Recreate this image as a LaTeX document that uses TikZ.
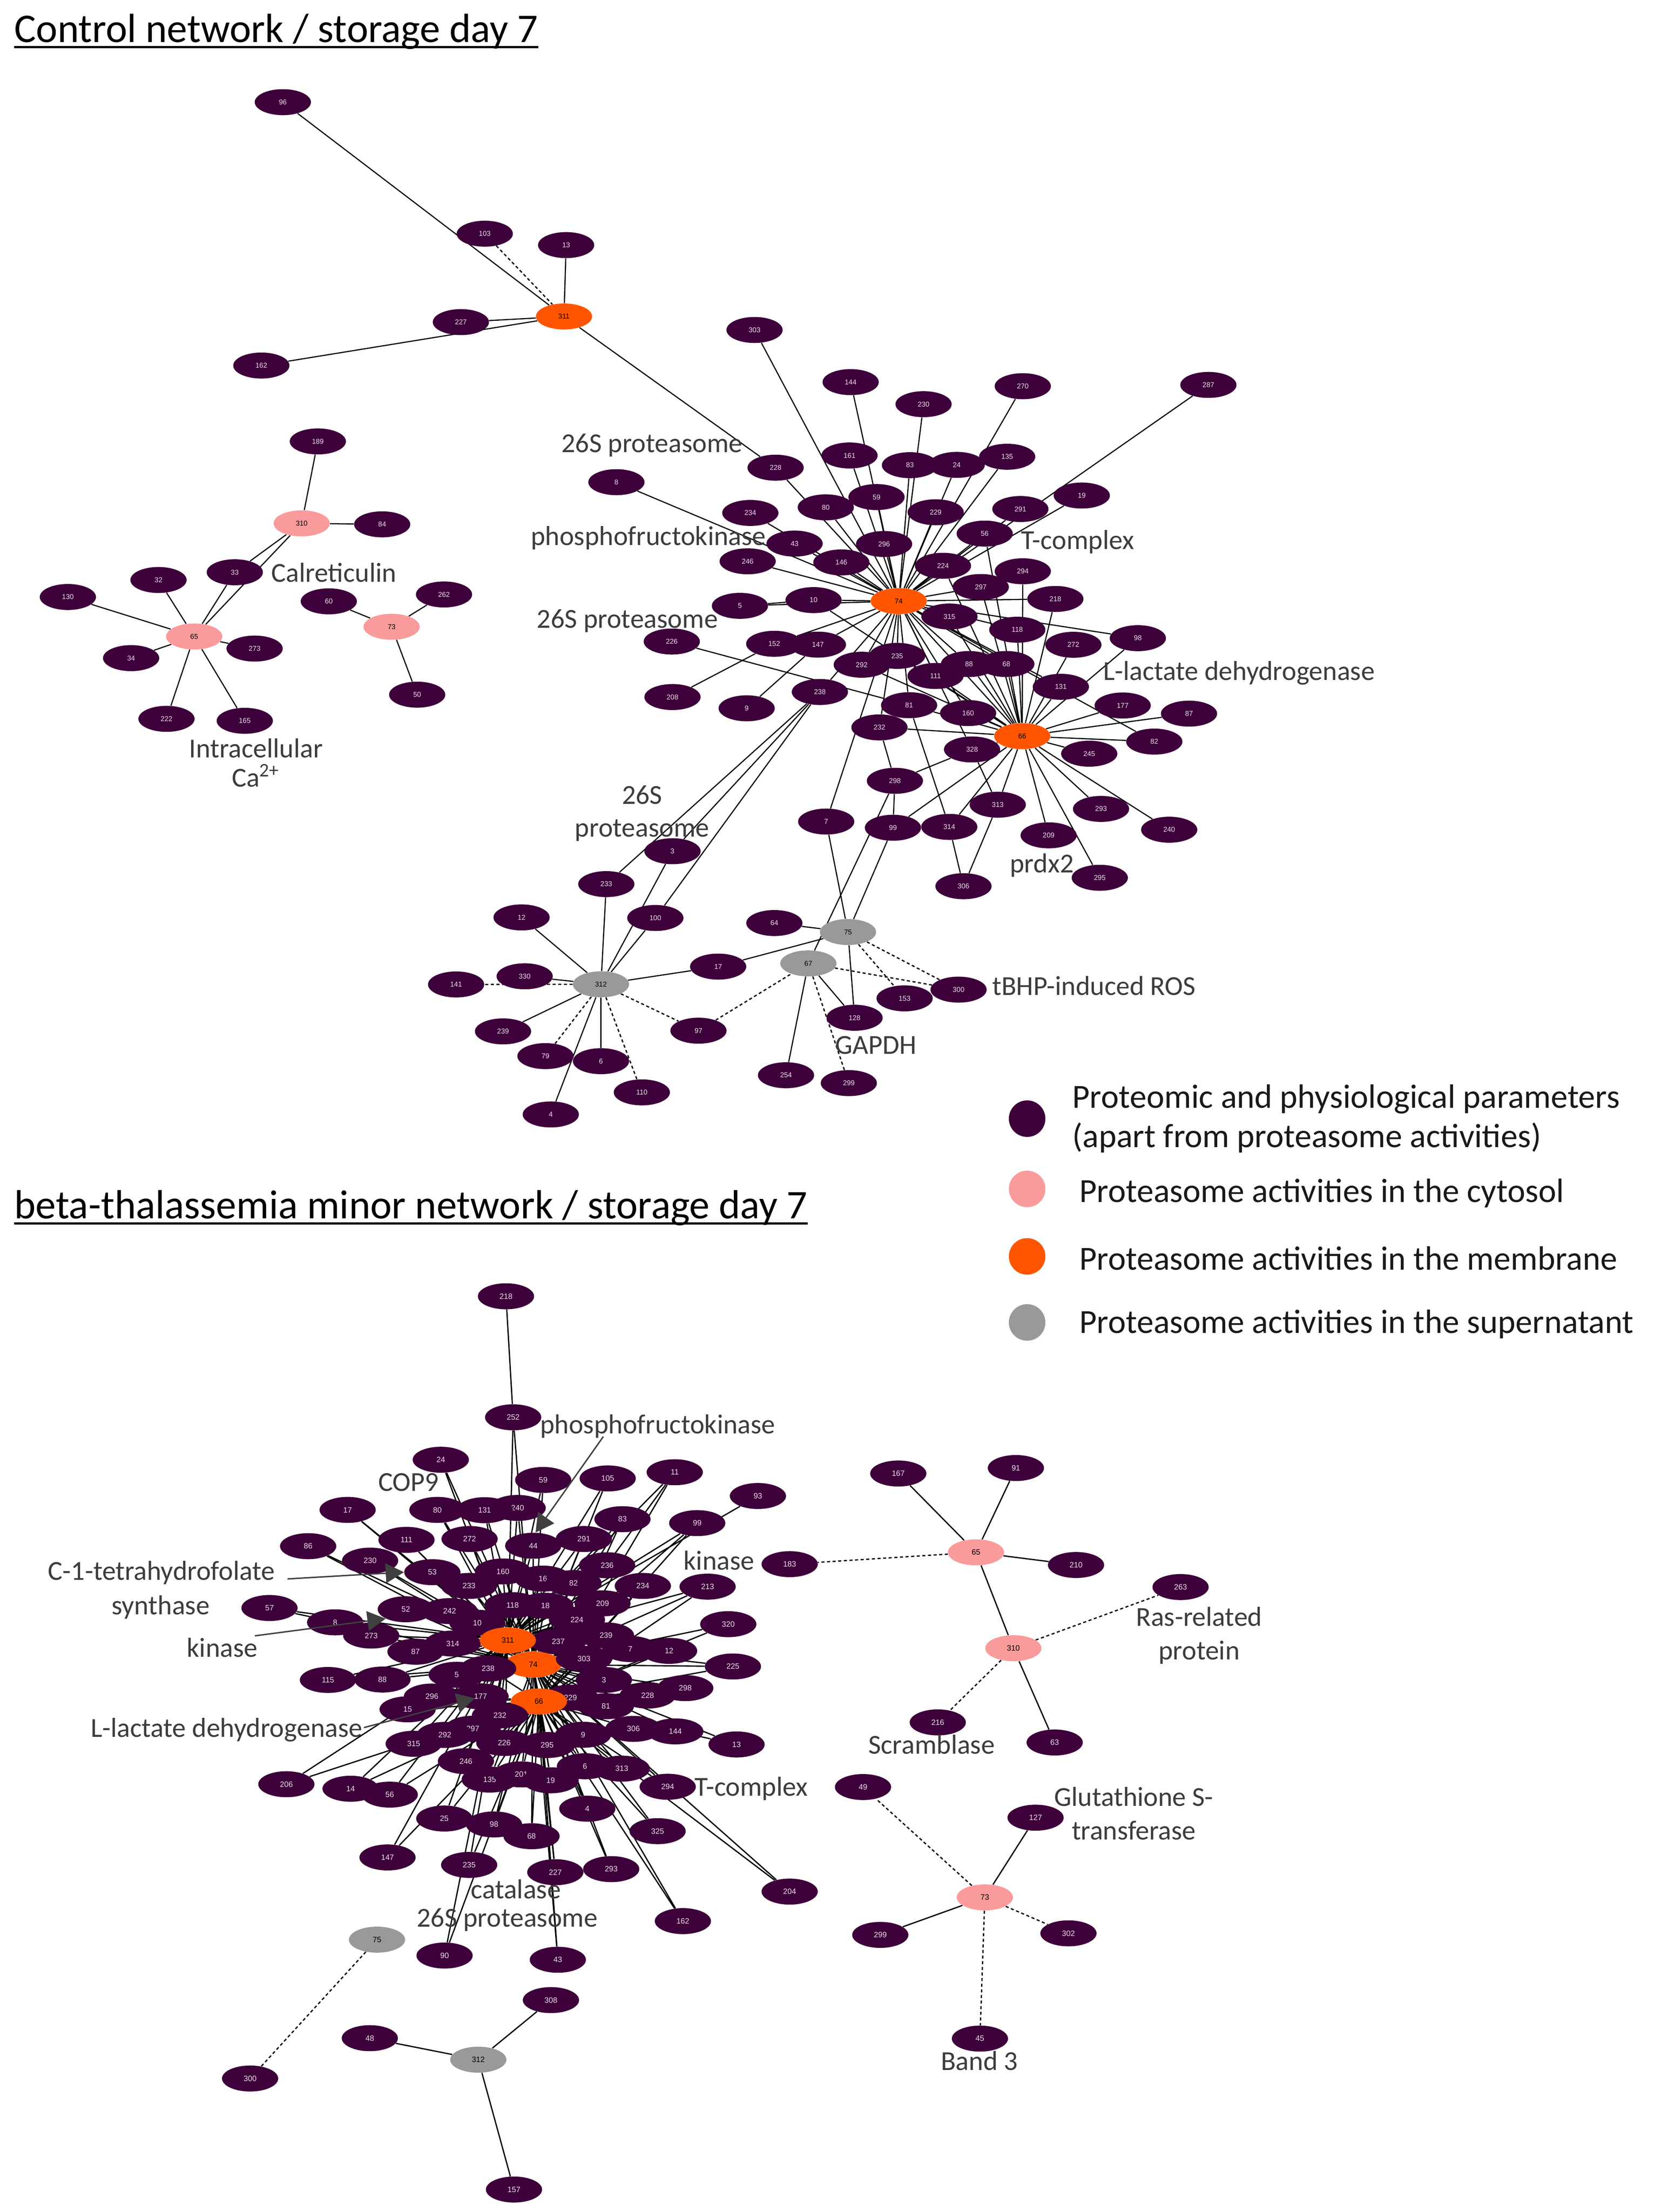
\documentclass[tikz,border=0pt]{standalone}
\usepackage{fontspec}
\setmainfont{Carlito}
\newfontfamily\numfont{Liberation Sans}
\usetikzlibrary{shapes.geometric,arrows.meta}
\pgfdeclarelayer{bg}
\pgfsetlayers{bg,main}
\definecolor{pur}{RGB}{62,0,58}
\definecolor{pnk}{RGB}{250,155,155}
\definecolor{org}{RGB}{255,85,0}
\definecolor{gry}{RGB}{153,153,153}
\definecolor{ntxt}{RGB}{238,218,236}
\definecolor{lbl}{RGB}{60,60,60}
\definecolor{arr}{RGB}{64,64,64}
\begin{document}
\begin{tikzpicture}[x=1pt,y=-1pt,
  nd/.style={ellipse, minimum width=40pt, minimum height=18.5pt, inner sep=0pt, font=\numfont\fontsize{5}{5}\selectfont},
  pnode/.style={nd, fill=pur, text=ntxt},
  knode/.style={nd, fill=pnk, text=black},
  onode/.style={nd, fill=org, text=black},
  gnode/.style={nd, fill=gry, text=black},
  bsz/.style={font=\numfont\fontsize{5.5}{5.5}\selectfont},
  edg/.style={line width=0.8pt, black},
  bedg/.style={line width=0.9pt, black},
  dsh/.style={line width=0.9pt, black, dash pattern=on 2.2pt off 1.8pt},
  lab/.style={font=\fontsize{19.5}{22}\selectfont, text=lbl, inner sep=0pt, anchor=base},
  ttl/.style={font=\fontsize{29}{32}\selectfont, text=black, inner sep=0pt, anchor=base west},
  leg/.style={font=\fontsize{24}{28}\selectfont, text=black!90, inner sep=0pt, anchor=base west},
  legc/.style={circle, minimum size=26pt, inner sep=0pt},
  arw/.style={draw=arr, line width=1pt, -{Triangle[length=13pt,width=14pt]}}
]
\useasboundingbox (0,0) rectangle (1187,1574);

% ---------- titles ----------
\node[ttl] (t1) at (10,30) {Control network / storage day 7};
\draw[line width=1.4pt] ([yshift=-3.5pt]t1.base west) -- ([yshift=-3.5pt]t1.base east);
\node[ttl] (t2) at (10,867) {beta-thalassemia minor network / storage day 7};
\draw[line width=1.4pt] ([yshift=-3.5pt]t2.base west) -- ([yshift=-3.5pt]t2.base east);

% ---------- control network nodes ----------
\foreach \n/\x/\y in {96/201.3/72.7, 103/345/166.3, 13/402.9/174.4, 227/328/229.2, 162/186/260.1,
 189/226.2/314.1, 84/272/373.1, 33/167.1/407.2, 32/112.8/412.7, 130/48.3/424.8, 34/93.3/468.3,
 273/181.2/461.5, 222/118.5/511.5, 165/174.2/512.9, 60/234/427.9, 262/316/423, 50/296.9/494.3,
 303/537/234.8, 144/605.4/271.9, 230/657.3/287.6, 270/727.9/274.8, 287/860/273.9, 228/552/332.8,
 161/604.6/324.1, 83/647.6/331, 24/680.9/330.8, 135/716.8/325, 8/438.7/343.1, 234/534/365,
 80/587.7/361, 59/623.8/353.7, 229/665.9/364.5, 291/726.2/362.2, 19/769.9/352.6, 43/565.5/386.8,
 296/629.2/387.1, 56/700.8/379.7, 246/532.1/399.4, 146/598.8/400.2, 224/671.1/402.6, 294/727.9/406.5,
 297/698/417.7, 218/751.1/426.2, 10/579/427, 5/526.6/431.1, 315/675.7/438.7, 118/724/448.1,
 98/809.8/454.1, 272/763.9/458.8, 226/478.1/456.5, 152/551/458.1, 147/582.1/458.7, 292/613.3/473,
 235/638.5/466.7, 88/689.6/472.5, 68/716.2/472.5, 111/665.8/481, 131/755/488.7, 208/478.6/496,
 9/531.4/504, 238/583.5/492.4, 81/647/501.8, 160/689/507.4, 177/799/502, 87/846.2/507.8,
 232/625.9/517.6, 82/821.5/527.7, 328/691.8/533.3, 245/775.2/536.3, 298/636.9/555.6, 313/710.1/572.6,
 293/783.6/575.6, 7/588/584.6, 99/635.5/589, 314/675.6/588.4, 240/832.1/590.4, 209/746.3/594.4,
 3/478.6/605.7, 295/782.7/624.6, 306/685.7/630.6,
 233/431.5/629.1, 12/371.2/652.8, 100/466.4/653.2, 64/551.1/656.8, 17/511.1/687.8, 330/373.4/694.7,
 141/324.6/700.5, 153/643.8/710.4, 300/682.2/704.2, 128/608.2/724.2, 239/358/733.9, 97/497.1/733.4,
 79/388.2/751.5, 6/427.7/755.1, 110/456.8/777.3, 254/559.4/765.1, 299/604.1/770.7, 4/392/793}
  \node[pnode] (a\n) at (\x,\y) {\n};
\node[onode] (a311) at (401.4,225.2) {311};
\node[knode] (a310) at (214.7,372.4) {310};
\node[knode] (a65) at (138.2,452.9) {65};
\node[knode] (a73) at (278.7,446) {73};
\node[onode] (a74) at (639.6,427.7) {74};
\node[onode] (a66) at (727.5,523.8) {66};
\node[gnode] (a75) at (603.5,663.2) {75};
\node[gnode] (a67) at (575.3,685.5) {67};
\node[gnode] (a312) at (427.7,700.4) {312};

% ---------- control edges ----------
\begin{pgfonlayer}{bg}
\foreach \t in {303,144,161,230,83,24,229,135,270,287,291,19,56,224,297,315,218,118,98,82,228,80,59,296,146,43,234,8,246,10,5,152,147,292,235,238,111,88,68,81,160,232,328,7,66,131}
  \draw[edg] (a74) -- (a\t);
\foreach \t in {87,177,82,245,293,240,209,295,313,314,99,328,160,232,131,98,272,118,68,88,111,315,218,294,56,224,297,10,292,235,81}
  \draw[edg] (a66) -- (a\t);
\foreach \s/\t in {96/311,13/311,227/311,162/311,311/228,189/310,310/84,310/33,310/65,33/65,65/130,65/32,65/34,65/273,65/222,65/165,73/60,73/262,73/50,5/10,208/152,9/147,226/81,232/298,298/328,298/99,298/67,313/306,314/306,81/314,328/313,7/75,99/75,238/233,238/3,238/100,3/312,312/12,312/330,312/233,312/100,312/17,312/239,312/6,312/4,75/64,75/17,75/128,67/128,67/254}
  \draw[edg] (a\s) -- (a\t);
\foreach \s/\t in {103/311,312/141,312/79,312/110,312/97,97/67,75/153,75/300,67/300,67/299}
  \draw[dsh] (a\s) -- (a\t);
\end{pgfonlayer}

% ---------- control labels ----------
\node[lab] (c1) at (464,322) {26S proteasome};
\node[lab] (c2) at (461.5,388) {phosphofructokinase};
\node[lab] (c3) at (446.5,447) {26S proteasome};
\node[lab] (c4) at (766.9,390.7) {T-complex};
\node[lab, anchor=base west] (c5) at (785,484) {L-lactate dehydrogenase};
\node[lab] (c6) at (741.5,621) {prdx2};
\node[lab] (c7) at (457,572) {26S};
\node[lab] (c8) at (457,595.5) {proteasome};
\node[lab, anchor=base west] (c9) at (706,708) {tBHP-induced ROS};
\node[lab] (c10) at (623.3,750) {GAPDH};
\node[lab] (c11) at (237.6,414) {Calreticulin};
\node[lab] (c12) at (182.2,539) {Intracellular};
\node[lab] (c13) at (182,560) {Ca\textsuperscript{2+}};

% ---------- legend ----------
\node[legc, fill=pur] (lg1) at (731,796) {};
\node[legc, fill=pnk] (lg2) at (731,846) {};
\node[legc, fill=org] (lg3) at (731,894) {};
\node[legc, fill=gry] (lg4) at (731,941) {};
\node[leg] (lt1) at (763,788.5) {Proteomic and physiological parameters};
\node[leg] (lt1b) at (763,816.5) {(apart from proteasome activities)};
\node[leg] (lt2) at (768,855.5) {Proteasome activities in the cytosol};
\node[leg] (lt3) at (768,903.5) {Proteasome activities in the membrane};
\node[leg] (lt4) at (768,948.5) {Proteasome activities in the supernatant};

% ---------- beta network nodes ----------
\foreach \n/\x/\y in {218/360.1/922.4, 252/365.2/1008.5, 24/313.7/1038.7, 59/386.6/1053.1, 105/432.5/1052,
 11/480.2/1047.6, 93/539.4/1064.5, 17/247.4/1074.4, 240/368.4/1073, 80/311.3/1074.4, 131/344.9/1074.6,
 83/443/1081, 99/496.2/1083.8, 86/219.3/1100.2, 111/289.3/1095.7, 272/334.2/1095.1, 291/415.5/1095.1,
 44/379.5/1099.9, 230/263.4/1110.5, 236/432.1/1113.8, 234/457.5/1128.5, 213/503.6/1129, 320/518.3/1155.7,
 225/521.6/1185.8, 298/487.7/1201.2, 228/460.9/1206.5, 12/476.2/1174.7, 7/448.6/1173.4, 144/480.6/1232,
 13/524.2/1241.3, 306/450.8/1230.2, 57/191.8/1144.2, 8/238.5/1154.4, 273/264.2/1163.8, 115/233.4/1195.4,
 88/272.2/1195.1, 206/203.8/1269.6, 14/249.5/1272.8, 56/277.4/1277, 25/316.2/1294, 98/351.6/1298.2,
 68/378.3/1306.6, 147/275.8/1321.7, 235/333.9/1327, 227/395.2/1332.2, 293/435/1330, 325/468/1303,
 162/486/1367, 204/562/1346, 4/418/1287, 294/475.2/1271.4, 313/442.5/1258.5, 6/416.3/1256.8,
 135/348.5/1266.3, 201/371/1262.6, 19/391.9/1266.8, 246/331.6/1253.2, 295/389.4/1241.7, 9/415/1234.4,
 226/358.9/1240.2, 315/294.4/1240.8, 297/336.5/1230.1, 292/316.6/1234.5, 15/290.1/1216.3,
 296/307.4/1207.2, 87/295.7/1175.3, 52/288.8/1145.1, 53/307.7/1118.7, 233/333.8/1128.5,
 160/357.9/1118.2, 16/386.4/1123.3, 82/408.2/1126.5, 209/428.8/1140.9, 18/388.1/1142.6,
 118/364.8/1142.2, 242/320/1146.4, 10/339.7/1154.7, 224/410.6/1152.5, 239/431.3/1163.7,
 237/397.3/1168, 314/322.2/1169.5}
  \node[pnode,bsz] (b\n) at (\x,\y) {\n};
\node[onode,bsz] (b311) at (361.4,1167.2) {311};
\node[onode,bsz] (b74) at (379.5,1184.4) {74};
\foreach \n/\x/\y in {5/325/1191.7, 238/347.4/1187.3, 303/415.6/1180.4, 3/429.8/1195.4, 81/431.2/1214.1, 229/406/1208}
  \node[pnode,bsz] (b\n) at (\x,\y) {\n};
\node[onode,bsz] (b66) at (383.5,1210.7) {66};
\foreach \n/\x/\y in {177/342/1207.1, 232/355.8/1220.6,
 167/639.3/1048.5, 91/723/1044.6, 183/562/1113, 210/765.8/1113.6, 263/840.2/1129.3, 216/667.4/1225.6,
 63/750.6/1239.9, 49/614.2/1271.6, 127/737/1293.4, 299/626.5/1376.8, 302/760.4/1375.7, 45/697.4/1450.6,
 90/316.4/1391.5, 43/397/1394.5, 308/392.1/1423.2, 48/263.2/1450.3, 300/178/1479, 157/365.8/1558}
  \node[pnode,bsz] (b\n) at (\x,\y) {\n};
\node[knode,bsz] (b65) at (694.6,1104.6) {65};
\node[knode,bsz] (b310) at (721.2,1172.8) {310};
\node[knode,bsz] (b73) at (700.9,1350.1) {73};
\node[gnode,bsz] (b75) at (268.3,1380.2) {75};
\node[gnode,bsz] (b312) at (340.4,1465.6) {312};

% ---------- beta edges ----------
\begin{pgfonlayer}{bg}
\draw[bedg] (b218) -- (b252);
\foreach \t in {252,24,17,59,105,80,131,240,111,272,44,230,53,160,233,52,242,118,10,314,86,57,8,273,87,16,18,291,83,236,82,11,99,209,224,237,5,115,88}
  {\draw[bedg] (b311) -- (b\t); \draw[bedg] (b74) -- (b\t);}
\foreach \t in {239,7,12,303,225,3,298,228,81,229,234,213,320,306,144,13,9,295,6,313,294,4,19,325,293,162,204,227,43,68,98,135,201,238}
  {\draw[bedg] (b74) -- (b\t); \draw[bedg] (b66) -- (b\t);}
\foreach \t in {296,177,15,232,297,292,315,226,246,206,14,56,25,147,235,90}
  {\draw[bedg] (b311) -- (b\t); \draw[bedg] (b66) -- (b\t);}
\foreach \s/\t in {93/311,11/66,99/66,83/66,213/311,225/311,311/74,74/66,311/66,65/167,65/91,65/210,65/310,310/63,73/127,73/299,312/48,312/308,312/157}
  \draw[bedg] (b\s) -- (b\t);
\foreach \s/\t in {65/183,310/263,310/216,73/49,73/302,73/45,75/300}
  \draw[dsh] (b\s) -- (b\t);
\end{pgfonlayer}

% ---------- beta labels ----------
\node[lab] (d1) at (468.1,1020) {phosphofructokinase};
\node[lab] (d2) at (290.8,1061) {COP9};
\node[lab, anchor=base east] (d3) at (195.8,1124.3) {C-1-tetrahydrofolate};
\node[lab, anchor=base east] (d4) at (149.4,1149) {synthase};
\node[lab] (d5) at (158.2,1179) {kinase};
\node[lab, anchor=base east] (d6) at (258.1,1236) {L-lactate dehydrogenase};
\node[lab] (d7) at (511.7,1117) {kinase};
\node[lab, anchor=base west] (d8) at (494.3,1278) {T-complex};
\node[lab] (d9) at (367.1,1351) {catalase};
\node[lab, anchor=base west] (d10) at (296.4,1371) {26S proteasome};
\node[lab] (d11) at (853.4,1157) {Ras-related};
\node[lab] (d12) at (853.4,1181) {protein};
\node[lab] (d13) at (663,1248) {Scramblase};
\node[lab] (d14) at (806.9,1285) {Glutathione S-};
\node[lab] (d15) at (806.9,1309) {transferase};
\node[lab] (d16) at (697,1473) {Band 3};

% ---------- annotation arrows ----------
\coordinate (ar1s) at (204.6,1123.5);
\coordinate (ar2s) at (181.4,1164);
\coordinate (ar3s) at (259,1229.3);
\coordinate (ar4s) at (429.4,1022.2);
\draw[arw] (ar1s) -- (b53.west);
\draw[arw] (ar2s) -- (b52.205);
\draw[arw] (ar3s) -- ([xshift=-4pt,yshift=-1.3pt]b177.center);
\draw[arw] (ar4s) -- (b44.80);
\end{tikzpicture}
\end{document}
